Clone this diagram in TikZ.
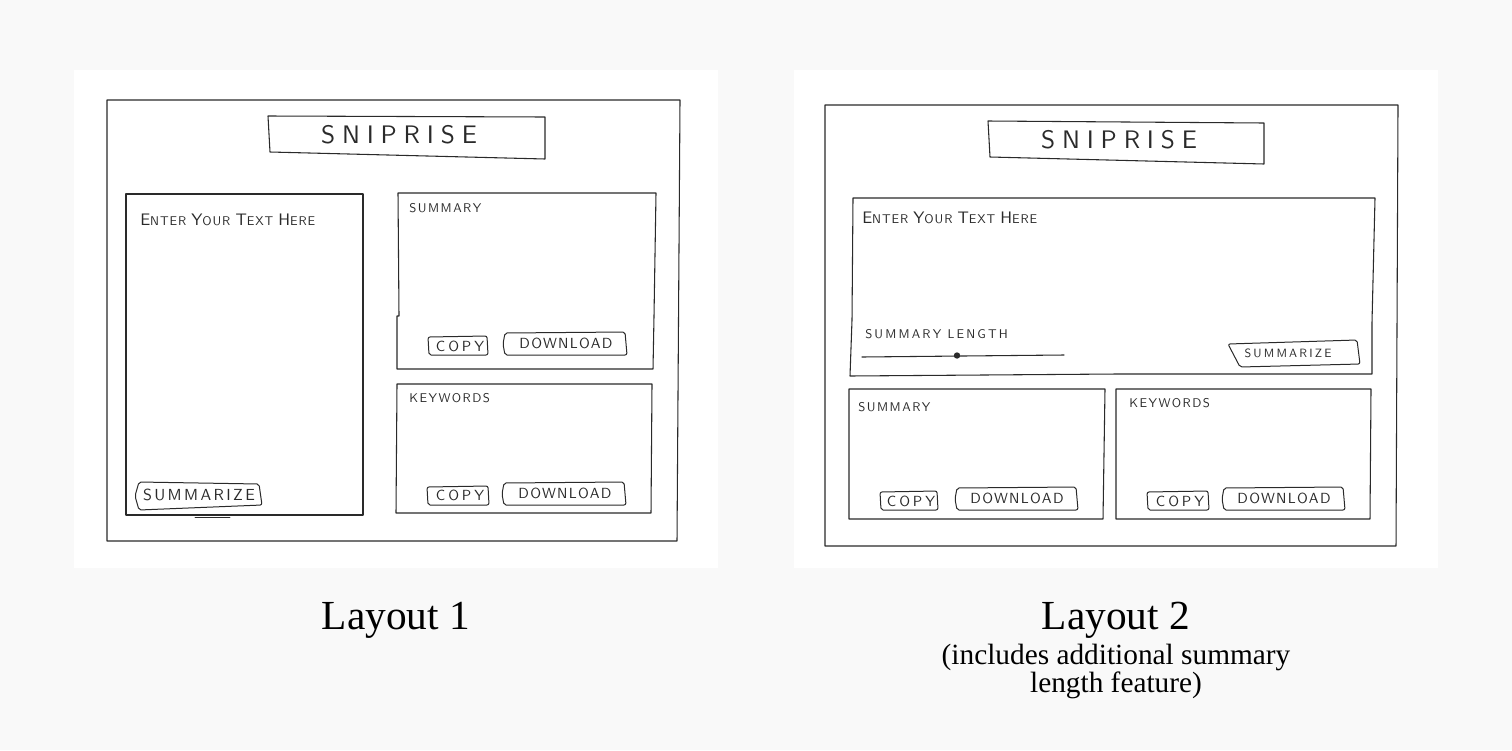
\documentclass[tikz,border=0pt]{standalone}
\usepackage{fontspec}
\setmainfont{Liberation Serif}
\newfontfamily\capfont{Liberation Serif}
\newfontfamily\handbase{lmsans10-regular.otf}
\newcommand\handfont[1]{\handbase\addfontfeatures{LetterSpace=#1}}
\newcommand\hcap[2]{{\fontsize{12.5}{12.5}\selectfont #1}{\fontsize{9.5}{9.5}\selectfont #2}}
\definecolor{pagebg}{HTML}{F9F9F9}
\definecolor{ink}{HTML}{2A2A2A}
\tikzset{
  sk/.style={draw=ink, line width=0.8pt, line join=round, line cap=round},
  btn/.style={draw=ink, line width=0.75pt, line join=round, rounded corners=1.5pt},
  hand/.style={font=\handfont{12}\fontsize{9.5}{9.5}\selectfont, inner sep=0pt, anchor=west, text=ink},
  handwide/.style={font=\handfont{7}\fontsize{9.5}{9.5}\selectfont, inner sep=0pt, anchor=west, text=ink},
  titletext/.style={font=\handfont{27}\fontsize{19}{19}\selectfont, inner sep=0pt, text=ink},
  btntext/.style={font=\handfont{9}\fontsize{11}{11}\selectfont, inner sep=0pt, text=ink},
  copytext/.style={font=\handfont{20}\fontsize{11}{11}\selectfont, inner sep=0pt, text=ink},
  sumtext/.style={font=\handfont{15}\fontsize{12}{12}\selectfont, inner sep=0pt, text=ink},
  sumsmall/.style={font=\handfont{18}\fontsize{9}{9}\selectfont, inner sep=0pt, text=ink},
  lentext/.style={font=\handfont{17}\fontsize{9.5}{9.5}\selectfont, inner sep=0pt, anchor=west, text=ink},
  captext/.style={font=\capfont\fontsize{31}{31}\selectfont, inner sep=0pt, text=black},
  subcaptext/.style={font=\capfont\fontsize{22}{21}\selectfont, inner sep=0pt, text=black, align=center},
}
\begin{document}
\begin{tikzpicture}[x=0.75pt, y=-0.75pt]
\fill[pagebg] (0,0) rectangle (1512,750);
\useasboundingbox (0,0) rectangle (1512,750);
% panels
\fill[white] (74,70) rectangle (718,568);
\fill[white] (794,70) rectangle (1438,568);

% ===== Layout 1 =====
\draw[sk] (107,100) -- (680,100) -- (677,541) -- (107,541) -- cycle;
\draw[sk] (268,116) -- (545,117) -- (545,159) -- (270,152) -- cycle;
\node[titletext] (t1) at (399,135) {SNIPRISE};
% input
\draw[sk] (126,194) -- (363,194) -- (363,515) -- (126,515) -- cycle;
\draw[sk, line width=0.5pt] (195,517) -- (230,517);
\node[handwide] (in1) at (140,220) {\hcap{E}{NTER} \hcap{Y}{OUR} \hcap{T}{EXT} \hcap{H}{ERE}};
\draw[btn] (139,482) -- (259,484) -- (262,505) -- (139,510) -- (135,496) -- cycle;
\node[sumtext] (sz1) at (199,495) {SUMMARIZE};
% summary
\draw[sk] (398,193) -- (656,193) -- (654,316) -- (653,369) -- (397,369) -- (397,316) -- (399,316) -- cycle;
\node[hand] (s1) at (409,208) {SUMMARY};
\draw[btn] (428,337) -- (487,336) -- (488,355) -- (429,355) -- cycle;
\node[copytext] (c1) at (460,346) {COPY};
\draw[btn] (505,333) -- (625,332) -- (627,355) -- (505,355) -- (503,344) -- cycle;
\node[btntext] (d1) at (566,343) {DOWNLOAD};
% keywords
\draw[sk] (397,384) -- (652,384) -- (651,513) -- (396,513) -- cycle;
\node[hand] (k1) at (409,398) {KEYWORDS};
\draw[btn] (427,487) -- (488,486) -- (489,505) -- (428,505) -- cycle;
\node[copytext] (c2) at (460,495) {COPY};
\draw[btn] (504,483) -- (624,482) -- (626,505) -- (504,505) -- (502,494) -- cycle;
\node[btntext] (d2) at (565,493) {DOWNLOAD};

\node[captext] (l1) at (396,620) {Layout 1};

% ===== Layout 2 =====
\draw[sk] (825,105) -- (1398,105) -- (1396,546) -- (825,546) -- cycle;
\draw[sk] (988,121) -- (1264,123) -- (1264,164) -- (990,157) -- cycle;
\node[titletext] (t2) at (1119,140) {SNIPRISE};
% input
\draw[sk] (853,198) -- (1375,198) -- (1372,322) -- (1372,374) -- (1117,374) -- (850,376) -- (852,320) -- cycle;
\node[handwide] (in2) at (862,218) {\hcap{E}{NTER} \hcap{Y}{OUR} \hcap{T}{EXT} \hcap{H}{ERE}};
\node[lentext] (sl2) at (865,334) {SUMMARY LENGTH};
\coordinate (sa) at (862,357);
\coordinate (sb) at (1064,355);
\draw[sk] (sa) -- (sb);
\fill[ink] (957,355.5) circle (3.2);
\draw[btn] (1228,344) -- (1357,340) -- (1360,364) -- (1240,367) -- cycle;
\node[sumsmall] (sz2) at (1288,353) {SUMMARIZE};
% summary
\draw[sk] (849,389) -- (1105,389) -- (1103,519) -- (849,519) -- cycle;
\node[hand] (s2) at (858,407) {SUMMARY};
\draw[btn] (880,492) -- (937,491) -- (938,510) -- (881,510) -- cycle;
\node[copytext] (c3) at (911,501) {COPY};
\draw[btn] (957,488) -- (1076,487) -- (1078,510) -- (957,510) -- (955,499) -- cycle;
\node[btntext] (d3) at (1017,498) {DOWNLOAD};
% keywords
\draw[sk] (1116,389) -- (1371,389) -- (1370,519) -- (1116,519) -- cycle;
\node[hand] (k2) at (1129,403) {KEYWORDS};
\draw[btn] (1147,492) -- (1208,491) -- (1209,510) -- (1148,510) -- cycle;
\node[copytext] (c4) at (1180,501) {COPY};
\draw[btn] (1224,488) -- (1343,487) -- (1345,510) -- (1224,510) -- (1222,499) -- cycle;
\node[btntext] (d4) at (1284,498) {DOWNLOAD};

\node[captext] (l2) at (1116,620) {Layout 2};
\node[subcaptext, anchor=north] (l2s) at (1116,644) {(includes additional summary\\length feature)};
\end{tikzpicture}
\end{document}
